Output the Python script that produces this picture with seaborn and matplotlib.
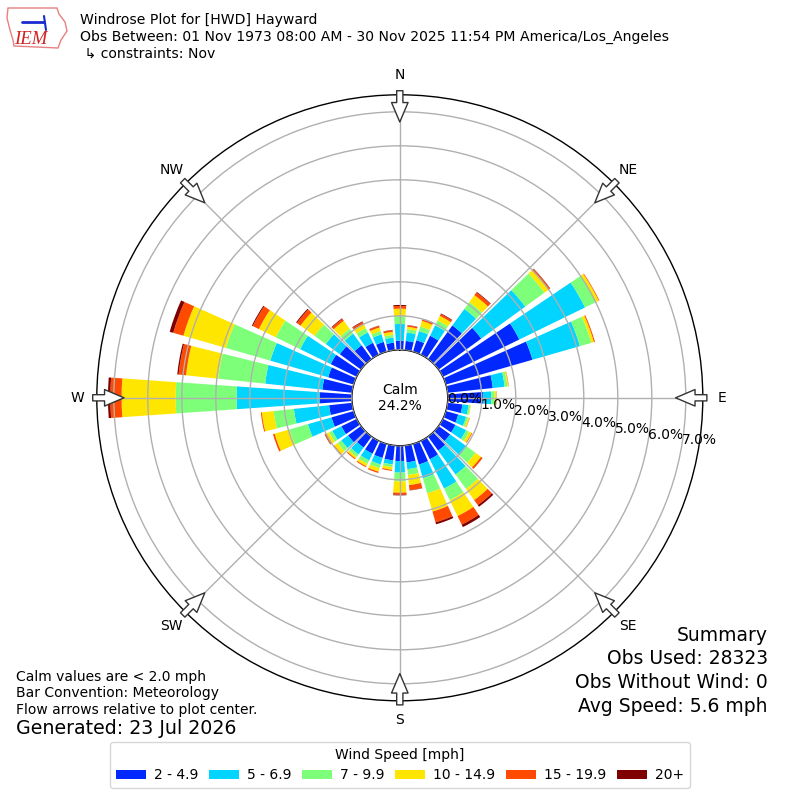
import numpy as np
import seaborn as sns
import matplotlib.pyplot as plt
from matplotlib.patches import Patch, Polygon
from matplotlib.lines import Line2D

sns.set_theme(style="white")
plt.rcParams['font.family'] = ['DejaVu Sans']
plt.rcParams['text.color'] = 'black'
plt.rcParams['xtick.color'] = 'black'
plt.rcParams['ytick.color'] = 'black'

# wind directions (deg, meteorological) and % frequency per speed bin
directions = list(range(0, 360, 10))
bin_labels = ["2 - 4.9", "5 - 6.9", "7 - 9.9", "10 - 14.9", "15 - 19.9", "20+"]
bin_colors = ["#0028ff", "#00d4ff", "#7dff7a", "#ffe600", "#ff4a00", "#800000"]

spd_2_5 = [0.27, 0.27, 0.35, 0.62, 1.22, 1.55, 2.50, 2.65, 1.34, 1.04, 0.44, 0.38,
           0.41, 0.42, 0.51, 0.60, 0.63, 0.50, 0.45, 0.44, 0.43, 0.42, 0.40, 0.47,
           0.50, 0.68, 0.68, 0.94, 0.88, 0.78, 0.85, 0.77, 0.50, 0.39, 0.30, 0.22]
spd_5_7 = [0.49, 0.25, 0.28, 0.34, 0.60, 1.60, 2.15, 1.45, 0.35, 0.24, 0.18, 0.24,
           0.35, 0.60, 0.87, 0.96, 0.42, 0.20, 0.34, 0.12, 0.20, 0.22, 0.25, 0.25,
           0.30, 0.72, 1.04, 2.45, 1.69, 1.77, 1.00, 0.51, 0.42, 0.34, 0.23, 0.15]
spd_7_10 = [0.23, 0.10, 0.14, 0.16, 0.25, 0.70, 0.35, 0.35, 0.08, 0.10, 0.05, 0.06,
            0.10, 0.32, 0.52, 0.38, 0.46, 0.17, 0.26, 0.08, 0.11, 0.11, 0.09, 0.13,
            0.10, 0.57, 0.60, 1.79, 1.39, 1.36, 0.80, 0.41, 0.18, 0.14, 0.10, 0.08]
spd_10_15 = [0.22, 0.07, 0.17, 0.15, 0.25, 0.15, 0.10, 0.08, 0.03, 0.05, 0.02, 0.04,
             0.08, 0.20, 0.41, 0.52, 0.56, 0.30, 0.33, 0.08, 0.11, 0.08, 0.06, 0.12,
             0.10, 0.45, 0.35, 1.59, 0.95, 1.30, 0.55, 0.51, 0.29, 0.14, 0.11, 0.09]
spd_15_20 = [0.08, 0.04, 0.05, 0.06, 0.10, 0.05, 0.02, 0.03, 0.01, 0.01, 0.00, 0.01,
             0.02, 0.06, 0.18, 0.28, 0.33, 0.15, 0.06, 0.03, 0.04, 0.03, 0.03, 0.03,
             0.04, 0.05, 0.03, 0.33, 0.22, 0.31, 0.20, 0.13, 0.07, 0.06, 0.05, 0.05]
spd_20_up = [0.03, 0.01, 0.02, 0.02, 0.02, 0.01, 0.00, 0.00, 0.00, 0.00, 0.00, 0.00,
             0.00, 0.00, 0.06, 0.08, 0.06, 0.01, 0.02, 0.00, 0.00, 0.00, 0.00, 0.00,
             0.01, 0.00, 0.00, 0.07, 0.04, 0.11, 0.03, 0.03, 0.02, 0.02, 0.01, 0.01]
bins = [spd_2_5, spd_5_7, spd_7_10, spd_10_15, spd_15_20, spd_20_up]

calm_pct = 24.2
ring_values = [0, 1, 2, 3, 4, 5, 6, 7]
compass = ["N", "NE", "E", "SE", "S", "SW", "W", "NW"]

fig = plt.figure(figsize=(8, 8), dpi=100)
ax = fig.add_axes([0.121, 0.124, 0.7575, 0.7575], projection="polar")
ax.set_theta_zero_location("N")
ax.set_theta_direction(-1)
ax.set_rorigin(-1.41)
ax.set_ylim(0, 7.5)
ax.set_axisbelow(False)

theta = np.deg2rad(directions)
bottom = np.zeros(len(directions))
for vals, col in zip(bins, bin_colors):
    ax.bar(theta, vals, width=np.deg2rad(8), bottom=bottom, color=col,
           edgecolor="none", zorder=1)
    bottom += np.array(vals)

ax.grid(True, color="#b0b0b0", linewidth=1)
ax.set_thetagrids(range(0, 360, 45), labels=compass, fontsize=10)
ax.tick_params(axis="x", pad=1)
ax.set_rgrids(ring_values, labels=[f"{v:.1f}%" for v in ring_values],
              angle=100, fontsize=10)
for name, sp in ax.spines.items():
    sp.set_color("black")
    sp.set_linewidth(1)

# flow arrows on the rim
for d in range(0, 360, 45):
    th = np.deg2rad(d)
    ax.annotate("", xy=(th, 6.7), xytext=(th, 7.62),
                arrowprops=dict(arrowstyle="simple,head_length=1.0,head_width=0.85,tail_width=0.32",
                                fc="white", ec="#333333", lw=1, shrinkA=0, shrinkB=0,
                                mutation_scale=14),
                annotation_clip=False, zorder=6)

ax.text(0.5, 0.5, f"Calm\n{calm_pct:.1f}%", transform=ax.transAxes,
        ha="center", va="center", fontsize=10, zorder=6)

# header
fig.text(0.1, 0.975, "Windrose Plot for [HWD] Hayward", fontsize=10.1, va="center")
fig.text(0.1, 0.954, "Obs Between: 01 Nov 1973 08:00 AM - 30 Nov 2025 11:54 PM America/Los_Angeles",
         fontsize=10.1, va="center")
fig.text(0.1, 0.9325, " \u21b3 constraints: Nov", fontsize=10.1, va="center")

# rough IEM logo
outline = [(8, 8), (57, 8), (59, 14), (65, 22), (67, 31), (61, 40), (58, 48),
           (14, 46), (13, 40), (10, 30), (7, 18)]
fig.add_artist(Polygon([(x / 800, 1 - y / 800) for x, y in outline], closed=True,
                       fill=False, ec="#e88080", lw=1, transform=fig.transFigure))
fig.add_artist(Line2D([22 / 800, 44 / 800], [1 - 22 / 800, 1 - 22 / 800], color="#1a2ad0",
                      lw=2, transform=fig.transFigure))
fig.add_artist(Line2D([44 / 800, 46 / 800], [1 - 16 / 800, 1 - 30 / 800], color="#1a2ad0",
                      lw=1.5, transform=fig.transFigure))
fig.text(0.039, 0.951, "IEM", color="#d42020", fontsize=13.5, style="italic",
         family="Liberation Serif", ha="center", va="center")

# summary
summary = ["Summary", "Obs Used: 28323", "Obs Without Wind: 0", "Avg Speed: 5.6 mph"]
for i, line in enumerate(summary):
    fig.text(0.96, 0.206 - i * 0.0295, line, fontsize=13.5, ha="right", va="center")

notes = ["Calm values are < 2.0 mph", "Bar Convention: Meteorology",
         "Flow arrows relative to plot center."]
for i, line in enumerate(notes):
    fig.text(0.02, 0.154 - i * 0.0208, line, fontsize=10, va="center")
fig.text(0.02, 0.089, "Generated: 23 Jul 2026", fontsize=13.7, va="center")

handles = [Patch(facecolor=c, edgecolor="none") for c in bin_colors]
leg = fig.legend(handles, bin_labels, ncol=6, loc="lower center",
                 bbox_to_anchor=(0.5, 0.015), borderaxespad=0,
                 title="Wind Speed [mph]",
                 fontsize=10, title_fontsize=10, frameon=True,
                 handlelength=2.15, handleheight=0.7, handletextpad=0.6,
                 columnspacing=0.75)
leg.get_frame().set_edgecolor("#cccccc")

fig.savefig("out.png", dpi=100)
